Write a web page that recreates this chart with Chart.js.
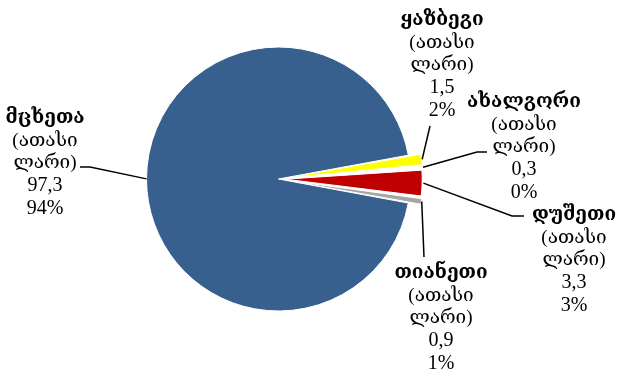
<!DOCTYPE html>
<html>
<head>
<meta charset="utf-8">
<script src="https://cdn.jsdelivr.net/npm/chart.js@4.4.1/dist/chart.umd.min.js"></script>
<style>
  html, body { margin: 0; padding: 0; background: #fff; }
  #wrap { width: 621px; height: 376px; }
</style>
</head>
<body>
<div id="wrap"><canvas id="pieChart" width="621" height="376"></canvas></div>
<script>
// Data, clockwise from the yellow slice
const districts = ['ყაზბეგი', 'ახალგორი', 'დუშეთი', 'თიანეთი', 'მცხეთა'];
const values = [1.5, 0.3, 3.3, 0.9, 97.3];
const shares = ['2%', '0%', '3%', '1%', '94%'];
const unitLines = ['(ათასი', 'ლარი)'];
const sliceColors = ['#FFFF00', '#FFFFFF', '#C00000', '#A6A6A6', '#37608F'];

// label blocks: centre x, title baseline, leader path after the slice anchor
const labelLayout = [
    { x: 442, y: 25,  path: [[430, 126]] },
    { x: 524, y: 107, path: [[477, 152], [487, 152]] },
    { x: 574, y: 220, path: [[512, 216], [524, 216]] },
    { x: 441, y: 278, path: [[424, 257]] },
    { x: 45,  y: 123, path: [[90, 167], [80, 167]] }
];
const lineHeight = 22.7;
const explode = 26;     // offset option
const explodeDiv = 2;   // pixels actually moved = offset / explodeDiv

const leaderLabels = {
    id: 'leaderLabels',
    afterDatasetsDraw(chart) {
        const ctx = chart.ctx;
        const arcs = chart.getDatasetMeta(0).data;
        ctx.save();
        arcs.forEach((arc, i) => {
            const lay = labelLayout[i];
            const mid = (arc.startAngle + arc.endAngle) / 2;
            const shift = (arc.options.offset || 0) / explodeDiv;
            const ax = arc.x + Math.cos(mid) * (arc.outerRadius + shift);
            const ay = arc.y + Math.sin(mid) * (arc.outerRadius + shift);

            // leader line
            ctx.strokeStyle = '#000';
            ctx.lineWidth = 1.5;
            ctx.beginPath();
            ctx.moveTo(ax, ay);
            lay.path.forEach(pt => ctx.lineTo(pt[0], pt[1]));
            ctx.stroke();

            // text block
            ctx.fillStyle = '#000';
            ctx.textAlign = 'center';
            ctx.textBaseline = 'alphabetic';
            ctx.font = 'bold 19px "DejaVu Serif", "DejaVu Sans", serif';
            ctx.fillText(districts[i], lay.x, lay.y);
            ctx.font = '19px "Liberation Serif", "DejaVu Serif", serif';
            ctx.fillText(unitLines[0], lay.x, lay.y + lineHeight);
            ctx.fillText(unitLines[1], lay.x, lay.y + lineHeight * 2);
            ctx.font = '20px "Liberation Serif", serif';
            ctx.fillText(values[i].toFixed(1).replace('.', ','), lay.x, lay.y + lineHeight * 3);
            ctx.fillText(shares[i], lay.x, lay.y + lineHeight * 4);
        });
        ctx.restore();
    }
};

const pieCtx = document.getElementById('pieChart').getContext('2d');
const pieChart = new Chart(pieCtx, {
    type: 'pie',
    data: {
        labels: districts,
        datasets: [{
            data: values,
            backgroundColor: sliceColors,
            borderColor: '#FFFFFF',
            borderWidth: 1,
            offset: [explode, explode, explode, explode, 0]
        }]
    },
    options: {
        responsive: false,
        animation: false,
        devicePixelRatio: 1,
        rotation: 79.6,
        radius: 132,
        layout: { padding: { left: 0, right: 64, top: 0, bottom: 18 } },
        plugins: {
            legend: { display: false },
            tooltip: { enabled: false }
        }
    },
    plugins: [leaderLabels]
});
</script>
</body>
</html>
